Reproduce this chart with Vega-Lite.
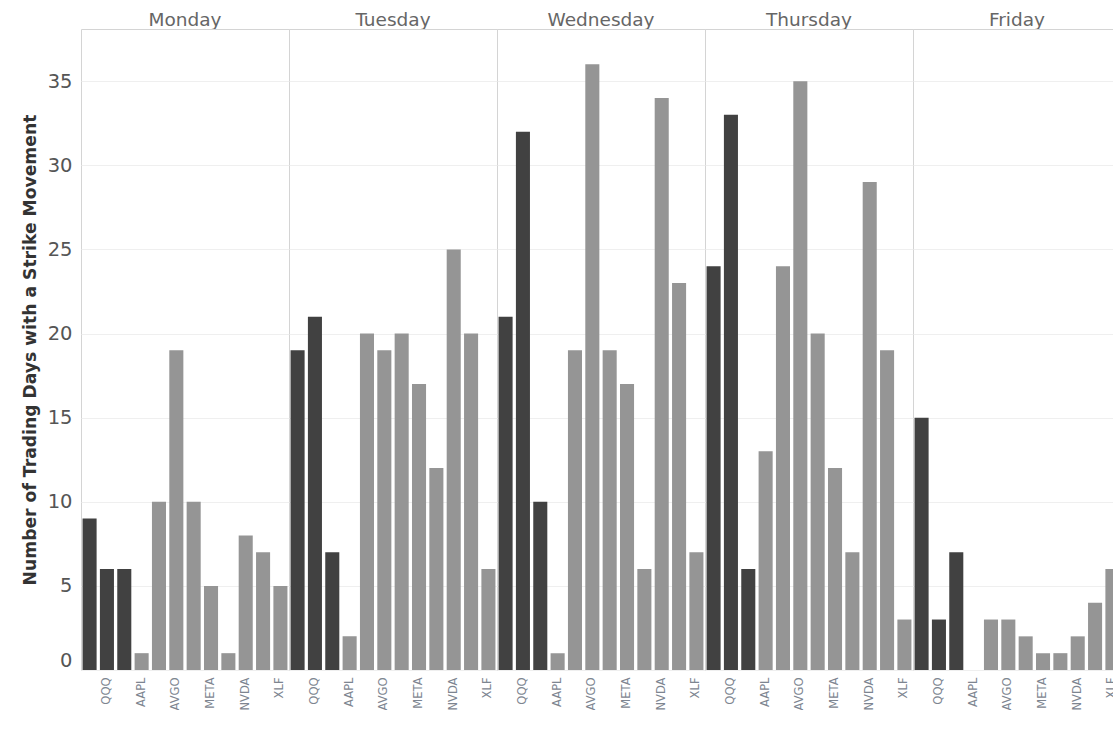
{
  "$schema": "https://vega.github.io/schema/vega-lite/v6.json",
  "padding": {"left": 21, "top": 10, "right": 0, "bottom": 0},
  "background": "white",
  "data": {"values": [
    {"day": "Monday", "ticker": "IWM", "kind": "Index ETF", "days": 9},
    {"day": "Monday", "ticker": "QQQ", "kind": "Index ETF", "days": 6},
    {"day": "Monday", "ticker": "SPY", "kind": "Index ETF", "days": 6},
    {"day": "Monday", "ticker": "AAPL", "kind": "Other", "days": 1},
    {"day": "Monday", "ticker": "AMZN", "kind": "Other", "days": 10},
    {"day": "Monday", "ticker": "AVGO", "kind": "Other", "days": 19},
    {"day": "Monday", "ticker": "GOOGL", "kind": "Other", "days": 10},
    {"day": "Monday", "ticker": "META", "kind": "Other", "days": 5},
    {"day": "Monday", "ticker": "MSFT", "kind": "Other", "days": 1},
    {"day": "Monday", "ticker": "NVDA", "kind": "Other", "days": 8},
    {"day": "Monday", "ticker": "TSLA", "kind": "Other", "days": 7},
    {"day": "Monday", "ticker": "XLF", "kind": "Other", "days": 5},
    {"day": "Tuesday", "ticker": "IWM", "kind": "Index ETF", "days": 19},
    {"day": "Tuesday", "ticker": "QQQ", "kind": "Index ETF", "days": 21},
    {"day": "Tuesday", "ticker": "SPY", "kind": "Index ETF", "days": 7},
    {"day": "Tuesday", "ticker": "AAPL", "kind": "Other", "days": 2},
    {"day": "Tuesday", "ticker": "AMZN", "kind": "Other", "days": 20},
    {"day": "Tuesday", "ticker": "AVGO", "kind": "Other", "days": 19},
    {"day": "Tuesday", "ticker": "GOOGL", "kind": "Other", "days": 20},
    {"day": "Tuesday", "ticker": "META", "kind": "Other", "days": 17},
    {"day": "Tuesday", "ticker": "MSFT", "kind": "Other", "days": 12},
    {"day": "Tuesday", "ticker": "NVDA", "kind": "Other", "days": 25},
    {"day": "Tuesday", "ticker": "TSLA", "kind": "Other", "days": 20},
    {"day": "Tuesday", "ticker": "XLF", "kind": "Other", "days": 6},
    {"day": "Wednesday", "ticker": "IWM", "kind": "Index ETF", "days": 21},
    {"day": "Wednesday", "ticker": "QQQ", "kind": "Index ETF", "days": 32},
    {"day": "Wednesday", "ticker": "SPY", "kind": "Index ETF", "days": 10},
    {"day": "Wednesday", "ticker": "AAPL", "kind": "Other", "days": 1},
    {"day": "Wednesday", "ticker": "AMZN", "kind": "Other", "days": 19},
    {"day": "Wednesday", "ticker": "AVGO", "kind": "Other", "days": 36},
    {"day": "Wednesday", "ticker": "GOOGL", "kind": "Other", "days": 19},
    {"day": "Wednesday", "ticker": "META", "kind": "Other", "days": 17},
    {"day": "Wednesday", "ticker": "MSFT", "kind": "Other", "days": 6},
    {"day": "Wednesday", "ticker": "NVDA", "kind": "Other", "days": 34},
    {"day": "Wednesday", "ticker": "TSLA", "kind": "Other", "days": 23},
    {"day": "Wednesday", "ticker": "XLF", "kind": "Other", "days": 7},
    {"day": "Thursday", "ticker": "IWM", "kind": "Index ETF", "days": 24},
    {"day": "Thursday", "ticker": "QQQ", "kind": "Index ETF", "days": 33},
    {"day": "Thursday", "ticker": "SPY", "kind": "Index ETF", "days": 6},
    {"day": "Thursday", "ticker": "AAPL", "kind": "Other", "days": 13},
    {"day": "Thursday", "ticker": "AMZN", "kind": "Other", "days": 24},
    {"day": "Thursday", "ticker": "AVGO", "kind": "Other", "days": 35},
    {"day": "Thursday", "ticker": "GOOGL", "kind": "Other", "days": 20},
    {"day": "Thursday", "ticker": "META", "kind": "Other", "days": 12},
    {"day": "Thursday", "ticker": "MSFT", "kind": "Other", "days": 7},
    {"day": "Thursday", "ticker": "NVDA", "kind": "Other", "days": 29},
    {"day": "Thursday", "ticker": "TSLA", "kind": "Other", "days": 19},
    {"day": "Thursday", "ticker": "XLF", "kind": "Other", "days": 3},
    {"day": "Friday", "ticker": "IWM", "kind": "Index ETF", "days": 15},
    {"day": "Friday", "ticker": "QQQ", "kind": "Index ETF", "days": 3},
    {"day": "Friday", "ticker": "SPY", "kind": "Index ETF", "days": 7},
    {"day": "Friday", "ticker": "AAPL", "kind": "Other", "days": 0},
    {"day": "Friday", "ticker": "AMZN", "kind": "Other", "days": 3},
    {"day": "Friday", "ticker": "AVGO", "kind": "Other", "days": 3},
    {"day": "Friday", "ticker": "GOOGL", "kind": "Other", "days": 2},
    {"day": "Friday", "ticker": "META", "kind": "Other", "days": 1},
    {"day": "Friday", "ticker": "MSFT", "kind": "Other", "days": 1},
    {"day": "Friday", "ticker": "NVDA", "kind": "Other", "days": 2},
    {"day": "Friday", "ticker": "TSLA", "kind": "Other", "days": 4},
    {"day": "Friday", "ticker": "XLF", "kind": "Other", "days": 6}
  ]},
  "facet": {
    "column": {
      "field": "day",
      "type": "nominal",
      "sort": ["Monday", "Tuesday", "Wednesday", "Thursday", "Friday"],
      "title": null,
      "header": {
        "labelFont": "DejaVu Sans",
        "labelFontSize": 18.5,
        "labelColor": "#666666",
        "labelPadding": 0
      }
    }
  },
  "spacing": 0,
  "bounds": "flush",
  "spec": {
    "width": 208,
    "height": 641,
    "mark": {"type": "bar"},
    "encoding": {
      "x": {
        "field": "ticker",
        "type": "nominal",
        "sort": ["IWM", "QQQ", "SPY", "AAPL", "AMZN", "AVGO", "GOOGL", "META", "MSFT", "NVDA", "TSLA", "XLF"],
        "scale": {"paddingInner": 0.19, "paddingOuter": 0.09},
        "axis": {
          "title": null,
          "labelAngle": -90,
          "labelFont": "DejaVu Sans",
          "labelFontSize": 11.5,
          "labelColor": "#7d8590",
          "labelPadding": 7,
          "ticks": false,
          "domain": false,
          "labelExpr": "indexof(['QQQ','AAPL','AVGO','META','NVDA','XLF'], datum.value) >= 0 ? datum.value : ''"
        }
      },
      "y": {
        "field": "days",
        "type": "quantitative",
        "scale": {"domain": [0, 38.1], "nice": false},
        "axis": {
          "title": "Number of Trading Days with a Strike Movement",
          "titleFont": "DejaVu Sans",
          "titleFontWeight": "bold",
          "titleFontSize": 17.2,
          "titleColor": "#333333",
          "titlePadding": 8,
          "values": [0, 5, 10, 15, 20, 25, 30, 35],
          "labelFont": "DejaVu Sans",
          "labelFontSize": 19.5,
          "labelColor": "#555555",
          "labelPadding": 9,
          "labelBaseline": {"condition": {"test": "datum.value == 0", "value": "bottom"}, "value": "middle"},
          "ticks": false,
          "domain": false,
          "gridColor": "#efefef"
        }
      },
      "color": {
        "field": "kind",
        "type": "nominal",
        "scale": {"domain": ["Index ETF", "Other"], "range": ["#414141", "#959595"]},
        "legend": null
      }
    }
  },
  "config": {
    "view": {"stroke": "#d4d4d4"}
  }
}
